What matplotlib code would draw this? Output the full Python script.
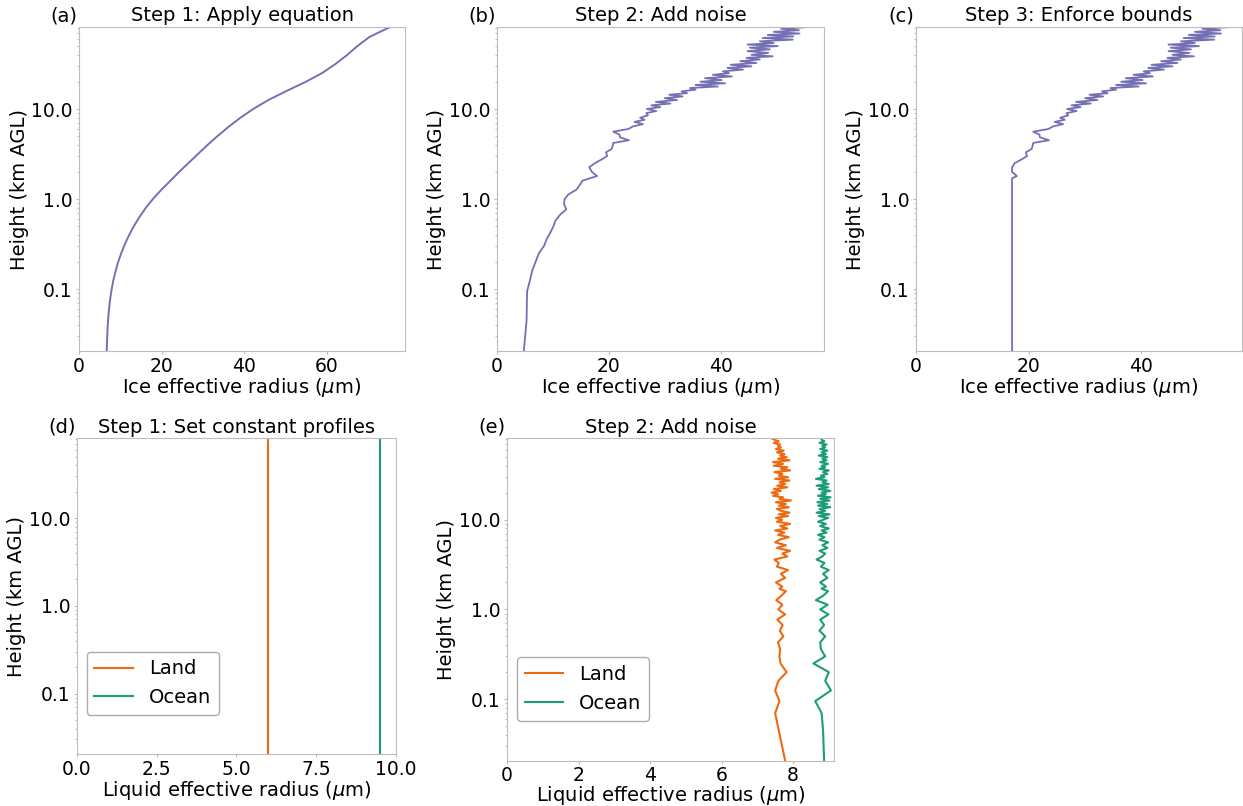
import numpy as np
import matplotlib
matplotlib.use("Agg")
import matplotlib.pyplot as plt
from matplotlib.ticker import FixedLocator, FormatStrFormatter, MultipleLocator

# model height levels (km above ground), shared by the noisy profiles
height_km = [
    0.0205, 0.045, 0.07, 0.095, 0.125, 0.16, 0.2, 0.25, 0.3, 0.36,
    0.43, 0.5, 0.58, 0.67, 0.77, 0.88, 1.0, 1.13, 1.27, 1.43,
    1.6, 1.7, 1.8, 2.0, 2.25, 2.5, 2.75, 3.0, 3.3, 3.6,
    3.9, 4.2, 4.5, 4.85, 5.2, 5.6, 6.0, 6.4, 6.8, 7.2,
    7.6, 8.0, 8.5, 9.0, 9.5, 10.0, 10.5, 11.0, 11.5, 12.0,
    12.6, 13.2, 13.8, 14.4, 15.0, 15.7, 16.4, 17.1, 17.8, 18.5,
    19.3, 20.1, 21.0, 22.0, 23.0, 24.0, 25.0, 26.2, 27.4, 28.6,
    29.8, 31.0, 32.5, 34.0, 35.5, 37.0, 38.5, 40.0, 42.0, 44.0,
    46.0, 48.0, 50.0, 52.0, 54.0, 56.5, 59.0, 61.5, 64.0, 66.5,
    69.0, 72.0, 75.0, 78.0, 81.5,
]

# (a) smooth ice effective radius from the equation
smooth_height_km = [
    0.0205, 0.0251, 0.0316, 0.0398, 0.0501, 0.0631, 0.0794, 0.1, 0.126, 0.158,
    0.2, 0.251, 0.316, 0.398, 0.501, 0.631, 0.794, 1.0, 1.26, 1.58,
    2.0, 2.51, 3.16, 3.98, 5.01, 6.31, 7.94, 10.0, 12.6, 15.8,
    20.0, 25.1, 31.6, 39.8, 50.1, 63.1, 79.4, 81.5,
]
ice_smooth = [
    6.70, 6.76, 6.84, 6.95, 7.10, 7.30, 7.56, 7.90, 8.32, 8.84,
    9.47, 10.22, 11.10, 12.12, 13.29, 14.62, 16.12, 17.87, 19.87, 22.02,
    24.22, 26.47, 28.77, 31.09, 33.53, 36.13, 38.97, 42.15, 45.85, 50.15,
    54.85, 58.85, 62.05, 64.90, 67.40, 70.30, 74.80, 75.50,
]

# (b) ice effective radius after adding noise
ice_noisy = [
    4.8, 5.3, 5.35, 5.4, 5.9, 6.3, 6.9, 7.5, 8.4, 8.9,
    9.6, 10.1, 10.5, 11.3, 12.4, 12.0, 12.1, 12.8, 14.2, 14.8,
    15.3, 16.6, 17.9, 17.0, 16.5, 17.5, 18.7, 19.7, 19.5, 20.5,
    20.7, 20.8, 23.6, 22.0, 21.9, 20.8, 23.5, 24.3, 26.1, 24.6,
    26.4, 25.6, 27.0, 26.7, 28.5, 26.8, 29.2, 27.6, 31.0, 28.4,
    32.2, 30.0, 33.2, 30.8, 34.0, 33.0, 35.5, 34.5, 39.5, 35.5,
    40.8, 36.4, 40.2, 37.2, 42.0, 38.6, 41.5, 40.4, 44.0, 41.2,
    45.5, 41.8, 46.4, 43.5, 47.0, 44.6, 49.3, 45.5, 48.5, 44.8,
    48.8, 45.2, 50.2, 44.8, 49.5, 47.0, 52.9, 47.5, 53.0, 48.4,
    54.1, 49.5, 54.0, 50.8, 55.9,
]
# (c) lower bound enforced on the noisy ice profile
ice_lower_bound = 17.05

# (d) constant liquid effective radius profiles
land_const = 6.0
ocean_const = 9.5

# (e) liquid effective radius after adding noise
land_noisy = [
    7.78, 7.60, 7.50, 7.62, 7.50, 7.59, 7.82, 7.65, 7.62, 7.64,
    7.58, 7.73, 7.63, 7.71, 7.56, 7.78, 7.59, 7.70, 7.53, 7.68,
    7.80, 7.62, 7.70, 7.52, 7.78, 7.66, 7.86, 7.55, 7.60, 7.48,
    7.84, 7.70, 7.92, 7.55, 7.80, 7.50, 7.62, 7.88, 7.58, 7.76,
    7.50, 7.84, 7.64, 7.92, 7.55, 7.70, 7.52, 7.86, 7.60, 7.90,
    7.66, 7.55, 7.88, 7.60, 7.80, 7.52, 7.94, 7.62, 7.72, 7.44,
    7.58, 7.40, 7.66, 7.46, 7.84, 7.56, 7.78, 7.62, 7.90, 7.50,
    7.86, 7.60, 7.70, 7.48, 7.92, 7.66, 7.84, 7.46, 7.72, 7.44,
    7.90, 7.58, 7.82, 7.64, 7.76, 7.55, 7.74, 7.52, 7.66, 7.58,
    7.64, 7.46, 7.60, 7.48, 7.38,
]
ocean_noisy = [
    8.87, 8.84, 8.80, 8.62, 9.06, 8.90, 9.00, 8.57, 8.90, 8.78,
    8.76, 8.90, 8.74, 8.87, 8.76, 8.99, 8.76, 8.97, 8.64, 8.85,
    8.98, 8.80, 8.92, 8.76, 8.96, 8.84, 9.00, 8.78, 8.88, 8.66,
    8.82, 8.90, 8.74, 8.96, 8.82, 8.98, 8.74, 8.88, 8.70, 8.94,
    8.80, 9.00, 8.76, 8.92, 8.70, 8.84, 8.98, 8.72, 9.02, 8.66,
    8.90, 8.74, 9.04, 8.70, 8.96, 8.68, 9.02, 8.76, 9.05, 8.70,
    8.92, 8.80, 9.04, 8.72, 8.98, 8.66, 9.00, 8.82, 8.94, 8.64,
    8.88, 8.78, 8.96, 8.84, 9.00, 8.74, 8.90, 8.80, 8.98, 8.76,
    8.94, 8.82, 8.96, 8.72, 8.92, 8.80, 8.96, 8.76, 8.90, 8.82,
    8.94, 8.74, 8.88, 8.80, 8.78,
]

ICE_COLOR = "#7570b3"
LAND_COLOR = "#ee6a10"
OCEAN_COLOR = "#1b9e77"
EDGE_GRAY = "#bdbdbd"

plt.rcParams["font.family"] = ["DejaVu Sans"]
plt.rcParams["font.size"] = 14
plt.rcParams["axes.titlesize"] = 14
plt.rcParams["axes.labelsize"] = 14
plt.rcParams["xtick.labelsize"] = 13.5
plt.rcParams["ytick.labelsize"] = 13.5
plt.rcParams["legend.fontsize"] = 14

heights = np.array(height_km)


def style_profile(ax, panel, title, xlabel, xpad=2.5, labelpad=0):
    ax.set_yscale("log")
    ax.set_ylim(heights[0], heights[-1])
    ax.yaxis.set_major_locator(FixedLocator([0.1, 1.0, 10.0]))
    ax.yaxis.set_major_formatter(FormatStrFormatter("%.1f"))
    ax.set_ylabel("Height (km AGL)", labelpad=2)
    ax.set_xlabel(xlabel, labelpad=labelpad)
    ax.set_title(title, pad=4)
    ax.annotate(panel, xy=(0, 1), xycoords="axes fraction", xytext=(-1, 4),
                textcoords="offset points", ha="right", va="baseline")
    for sp in ax.spines.values():
        sp.set_color(EDGE_GRAY)
    ax.tick_params(which="both", color=EDGE_GRAY, width=0.8, pad=2.5)
    ax.tick_params(axis="x", pad=xpad)
    ax.tick_params(which="major", length=2)
    ax.tick_params(which="minor", length=1.5)


fig = plt.figure(figsize=(12.43, 8.06), dpi=100)

ice_x = r"Ice effective radius ($\mu$m)"
liq_x = r"Liquid effective radius ($\mu$m)"

# (a) smooth equation profile
ax = fig.add_axes([0.0636, 0.5645, 0.2623, 0.402])
ax.plot(ice_smooth, smooth_height_km, color=ICE_COLOR, lw=1.4)
style_profile(ax, "(a)", "Step 1: Apply equation", ice_x)
ax.set_xlim(left=0)

# (b) noisy profile
ax = fig.add_axes([0.3998, 0.5645, 0.2630, 0.402])
ax.plot(ice_noisy, heights, color=ICE_COLOR, lw=1.3)
style_profile(ax, "(b)", "Step 2: Add noise", ice_x)
ax.set_xlim(left=0)

# (c) bounds enforced
ax = fig.add_axes([0.7369, 0.5645, 0.2623, 0.402])
ax.plot(np.maximum(ice_noisy, ice_lower_bound), heights, color=ICE_COLOR, lw=1.3)
style_profile(ax, "(c)", "Step 3: Enforce bounds", ice_x)
ax.set_xlim(left=0)

# (d) constant liquid profiles
ax = fig.add_axes([0.0619, 0.0645, 0.2566, 0.392])
ax.plot(np.full_like(heights, land_const), heights, color=LAND_COLOR, lw=1.5, label="Land")
ax.plot(np.full_like(heights, ocean_const), heights, color=OCEAN_COLOR, lw=1.5, label="Ocean")
style_profile(ax, "(d)", "Step 1: Set constant profiles", liq_x)
ax.set_xlim(0, 10)
ax.xaxis.set_major_locator(MultipleLocator(2.5))
ax.xaxis.set_major_formatter(FormatStrFormatter("%.1f"))
leg = ax.legend(loc="lower left", bbox_to_anchor=(0.03, 0.124), borderaxespad=0)
leg.get_frame().set_edgecolor("#999999")

# (e) noisy liquid profiles
ax = fig.add_axes([0.4079, 0.0560, 0.2630, 0.4005])
ax.plot(land_noisy, heights, color=LAND_COLOR, lw=1.5, label="Land")
ax.plot(ocean_noisy, heights, color=OCEAN_COLOR, lw=1.5, label="Ocean")
style_profile(ax, "(e)", "Step 2: Add noise", liq_x, xpad=1.5, labelpad=-0.5)
ax.set_xlim(left=0)
leg = ax.legend(loc="lower left", bbox_to_anchor=(0.03, 0.125), borderaxespad=0)
leg.get_frame().set_edgecolor("#999999")

fig.savefig("out.png", dpi=100)
